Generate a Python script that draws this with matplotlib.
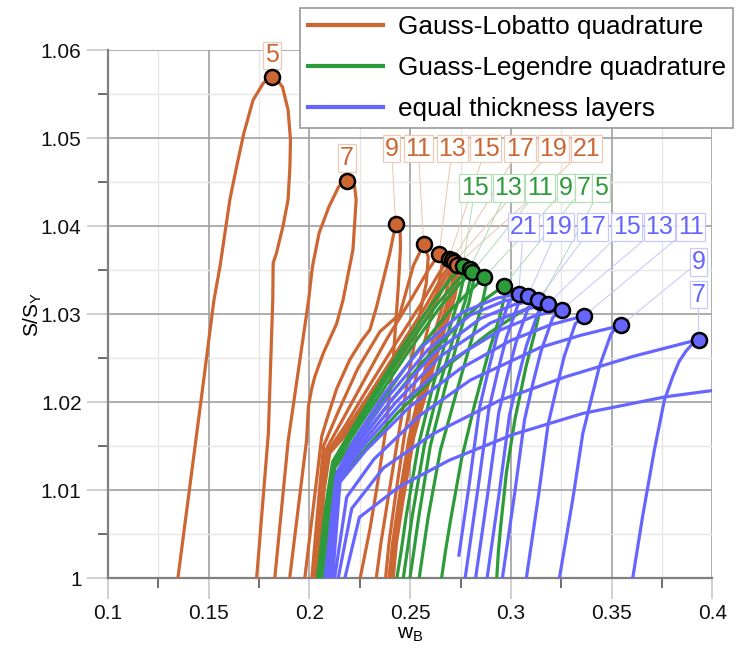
import matplotlib
matplotlib.use("Agg")
import matplotlib.pyplot as plt
from matplotlib.ticker import FixedLocator
from matplotlib.lines import Line2D

plt.rcParams['font.family'] = ['Liberation Sans', 'DejaVu Sans']

# ---------------- data ----------------
# Gauss-Lobatto quadrature (orange)
GL5_w = [0.1347, 0.1462, 0.1526, 0.1556, 0.1605, 0.1638, 0.1674, 0.1720, 0.1770, 0.1792, 0.1813, 0.1840, 0.1866, 0.1894, 0.1906, 0.1903, 0.1894, 0.1869, 0.1836, 0.1820, 0.1818, 0.1796, 0.1738]
GL5_s = [1.0, 1.0202, 1.0316, 1.0354, 1.0430, 1.0467, 1.0505, 1.0543, 1.0562, 1.0567, 1.0569, 1.0566, 1.0558, 1.0532, 1.0498, 1.0467, 1.0430, 1.0400, 1.0369, 1.0358, 1.0316, 1.0164, 1.0]
GL7_w = [0.1828, 0.1895, 0.1996, 0.2015, 0.2048, 0.2097, 0.2146, 0.2170, 0.2188, 0.2210, 0.2224, 0.2232, 0.2216, 0.2167, 0.2135, 0.2068, 0.2027, 0.2010, 0.1995, 0.1986, 0.1902]
GL7_s = [1.0, 1.0157, 1.0316, 1.0354, 1.0392, 1.0422, 1.0445, 1.0450, 1.0451, 1.0449, 1.0445, 1.0430, 1.0373, 1.0316, 1.0289, 1.0255, 1.0229, 1.0214, 1.0195, 1.0157, 1.0]
GL9_w = [0.1977, 0.2040, 0.2061, 0.2086, 0.2135, 0.2200, 0.2260, 0.2300, 0.2333, 0.2399, 0.2428, 0.2450, 0.2452, 0.2441, 0.2416, 0.2380, 0.2340, 0.2300, 0.2252]
GL9_s = [1.0, 1.0120, 1.0161, 1.0180, 1.0215, 1.0248, 1.0270, 1.0282, 1.0308, 1.0369, 1.0402, 1.0396, 1.0375, 1.0331, 1.0248, 1.0170, 1.0110, 1.0055, 1.0]
GL11_w = [0.2012, 0.2050, 0.2070, 0.2145, 0.2240, 0.2350, 0.2449, 0.2516, 0.2567, 0.2590, 0.2580, 0.2548, 0.2500, 0.2440, 0.2390, 0.2355, 0.2332]
GL11_s = [1.0, 1.0100, 1.0150, 1.0190, 1.0238, 1.0280, 1.0300, 1.0355, 1.0379, 1.0365, 1.0335, 1.0300, 1.0240, 1.0160, 1.0090, 1.0040, 1.0]
GL13_w = [0.2018, 0.2058, 0.2080, 0.2165, 0.2265, 0.2380, 0.2500, 0.2590, 0.2643, 0.2660, 0.2640, 0.2595, 0.2530, 0.2470, 0.2425, 0.2395, 0.2378]
GL13_s = [1.0, 1.0100, 1.0145, 1.0180, 1.0222, 1.0270, 1.0315, 1.0350, 1.0368, 1.0358, 1.0330, 1.0290, 1.0230, 1.0160, 1.0090, 1.0040, 1.0]
GL15_w = [0.2024, 0.2063, 0.2088, 0.2175, 0.2280, 0.2410, 0.2550, 0.2640, 0.2692, 0.2705, 0.2680, 0.2630, 0.2560, 0.2495, 0.2445, 0.2413, 0.2395]
GL15_s = [1.0, 1.0100, 1.0143, 1.0172, 1.0212, 1.0260, 1.0310, 1.0345, 1.0363, 1.0353, 1.0325, 1.0285, 1.0225, 1.0160, 1.0090, 1.0040, 1.0]
GL17_w = [0.2028, 0.2067, 0.2093, 0.2180, 0.2290, 0.2430, 0.2575, 0.2660, 0.2709, 0.2722, 0.2697, 0.2645, 0.2572, 0.2505, 0.2453, 0.2420, 0.2403]
GL17_s = [1.0, 1.0100, 1.0142, 1.0168, 1.0206, 1.0256, 1.0308, 1.0343, 1.0361, 1.0351, 1.0323, 1.0283, 1.0223, 1.0160, 1.0090, 1.0040, 1.0]
GL19_w = [0.2032, 0.2070, 0.2097, 0.2183, 0.2296, 0.2442, 0.2590, 0.2673, 0.2720, 0.2733, 0.2708, 0.2655, 0.2580, 0.2512, 0.2460, 0.2426, 0.2409]
GL19_s = [1.0, 1.0100, 1.0142, 1.0166, 1.0203, 1.0253, 1.0306, 1.0341, 1.0359, 1.0349, 1.0321, 1.0281, 1.0221, 1.0160, 1.0090, 1.0040, 1.0]
GL21_w = [0.2036, 0.2073, 0.2101, 0.2186, 0.2302, 0.2452, 0.2602, 0.2685, 0.2732, 0.2745, 0.2720, 0.2665, 0.2588, 0.2518, 0.2466, 0.2432, 0.2416]
GL21_s = [1.0, 1.0100, 1.0142, 1.0164, 1.0200, 1.0250, 1.0303, 1.0338, 1.0356, 1.0346, 1.0318, 1.0278, 1.0218, 1.0160, 1.0090, 1.0040, 1.0]

# Gauss-Legendre quadrature (green)
LG5_w = [0.2068, 0.2110, 0.2150, 0.2270, 0.2440, 0.2650, 0.2890, 0.3040, 0.3143, 0.3145, 0.3120, 0.3075, 0.3020, 0.2978, 0.2950, 0.2938, 0.2930]
LG5_s = [1.0, 1.0070, 1.0112, 1.0145, 1.0188, 1.0235, 1.0278, 1.0301, 1.0314, 1.0304, 1.0280, 1.0240, 1.0180, 1.0120, 1.0060, 1.0030, 1.0]
LG7_w = [0.2062, 0.2100, 0.2135, 0.2240, 0.2390, 0.2560, 0.2760, 0.2880, 0.2965, 0.2970, 0.2945, 0.2890, 0.2820, 0.2755, 0.2700, 0.2675, 0.2656]
LG7_s = [1.0, 1.0075, 1.0120, 1.0153, 1.0197, 1.0245, 1.0293, 1.0318, 1.0332, 1.0322, 1.0297, 1.0257, 1.0197, 1.0135, 1.0065, 1.0030, 1.0]
LG9_w = [0.2055, 0.2095, 0.2126, 0.2225, 0.2360, 0.2520, 0.2690, 0.2800, 0.2869, 0.2876, 0.2853, 0.2800, 0.2725, 0.2650, 0.2590, 0.2564, 0.2545]
LG9_s = [1.0, 1.0078, 1.0125, 1.0158, 1.0202, 1.0253, 1.0302, 1.0327, 1.0342, 1.0332, 1.0307, 1.0267, 1.0207, 1.0145, 1.0070, 1.0030, 1.0]
LG11_w = [0.2050, 0.2090, 0.2121, 0.2210, 0.2340, 0.2490, 0.2645, 0.2745, 0.2808, 0.2815, 0.2792, 0.2740, 0.2670, 0.2600, 0.2543, 0.2518, 0.2499]
LG11_s = [1.0, 1.0080, 1.0128, 1.0160, 1.0205, 1.0257, 1.0307, 1.0334, 1.0348, 1.0338, 1.0313, 1.0273, 1.0213, 1.0150, 1.0070, 1.0030, 1.0]
LG13_w = [0.2045, 0.2085, 0.2118, 0.2205, 0.2330, 0.2475, 0.2630, 0.2730, 0.2795, 0.2800, 0.2775, 0.2718, 0.2642, 0.2570, 0.2510, 0.2485, 0.2466]
LG13_s = [1.0, 1.0080, 1.0130, 1.0163, 1.0208, 1.0260, 1.0310, 1.0337, 1.0351, 1.0341, 1.0316, 1.0276, 1.0216, 1.0150, 1.0070, 1.0030, 1.0]
LG15_w = [0.2040, 0.2080, 0.2115, 0.2200, 0.2320, 0.2460, 0.2610, 0.2700, 0.2762, 0.2770, 0.2745, 0.2690, 0.2615, 0.2540, 0.2480, 0.2455, 0.2434]
LG15_s = [1.0, 1.0080, 1.0132, 1.0165, 1.0210, 1.0262, 1.0312, 1.0340, 1.0355, 1.0345, 1.0320, 1.0280, 1.0220, 1.0150, 1.0070, 1.0030, 1.0]

# equal thickness layers (blue)
EQ5_w = [0.2176, 0.2248, 0.2448, 0.2696, 0.3010, 0.3357, 0.3770, 0.4000]
EQ5_s = [1.0, 1.0069, 1.0104, 1.0134, 1.0163, 1.0187, 1.0206, 1.0213]
EQ7_w = [0.2143, 0.2210, 0.2367, 0.2615, 0.2946, 0.3277, 0.3609, 0.3932, 0.3905, 0.3870, 0.3835, 0.3804, 0.3762, 0.3712, 0.3654, 0.3605]
EQ7_s = [1.0, 1.0079, 1.0125, 1.0164, 1.0202, 1.0229, 1.0252, 1.0271, 1.0267, 1.0258, 1.0246, 1.0229, 1.0202, 1.0145, 1.0070, 1.0]
EQ9_w = [0.2125, 0.2185, 0.2320, 0.2550, 0.2800, 0.3146, 0.3350, 0.3547, 0.3520, 0.3497, 0.3439, 0.3398, 0.3357, 0.3307, 0.3241]
EQ9_s = [1.0, 1.0092, 1.0135, 1.0185, 1.0225, 1.0262, 1.0276, 1.0287, 1.0284, 1.0277, 1.0240, 1.0202, 1.0164, 1.0089, 1.0]
EQ11_w = [0.2115, 0.2152, 0.2280, 0.2500, 0.2750, 0.3000, 0.3200, 0.3365, 0.3320, 0.3265, 0.3225, 0.3185, 0.3138, 0.3077]
EQ11_s = [1.0, 1.0109, 1.0145, 1.0195, 1.0238, 1.0270, 1.0288, 1.0298, 1.0289, 1.0252, 1.0214, 1.0175, 1.0095, 1.0]
EQ13_w = [0.2105, 0.2145, 0.2260, 0.2450, 0.2700, 0.2950, 0.3120, 0.3254, 0.3208, 0.3150, 0.3108, 0.3068, 0.3020, 0.2958]
EQ13_s = [1.0, 1.0112, 1.0148, 1.0197, 1.0247, 1.0282, 1.0298, 1.0305, 1.0296, 1.0258, 1.0220, 1.0180, 1.0098, 1.0]
EQ15_w = [0.2095, 0.2140, 0.2250, 0.2430, 0.2650, 0.2900, 0.3070, 0.3183, 0.3136, 0.3077, 0.3034, 0.2993, 0.2944, 0.2882]
EQ15_s = [1.0, 1.0114, 1.0150, 1.0200, 1.0252, 1.0290, 1.0305, 1.0311, 1.0302, 1.0264, 1.0225, 1.0185, 1.0100, 1.0]
EQ17_w = [0.2090, 0.2138, 0.2240, 0.2410, 0.2620, 0.2850, 0.3020, 0.3134, 0.3086, 0.3026, 0.2982, 0.2940, 0.2889, 0.2825]
EQ17_s = [1.0, 1.0116, 1.0152, 1.0203, 1.0256, 1.0295, 1.0311, 1.0316, 1.0307, 1.0268, 1.0229, 1.0188, 1.0102, 1.0]
EQ19_w = [0.2083, 0.2135, 0.2230, 0.2390, 0.2590, 0.2800, 0.2970, 0.3084, 0.3036, 0.2976, 0.2932, 0.2890, 0.2838, 0.2773]
EQ19_s = [1.0, 1.0117, 1.0154, 1.0206, 1.0260, 1.0299, 1.0315, 1.0320, 1.0311, 1.0272, 1.0232, 1.0191, 1.0104, 1.0]
EQ21_w = [0.2077, 0.2133, 0.2220, 0.2370, 0.2560, 0.2760, 0.2930, 0.3039, 0.2991, 0.2931, 0.2887, 0.2845, 0.2793, 0.2742]
EQ21_s = [1.0, 1.0118, 1.0156, 1.0209, 1.0263, 1.0302, 1.0318, 1.0323, 1.0314, 1.0275, 1.0235, 1.0194, 1.0106, 1.0026]

# peak markers and their labels
lobatto_n = [5, 7, 9, 11, 13, 15, 17, 19, 21]
lobatto_peak_w = [0.1813, 0.2188, 0.2428, 0.2567, 0.2643, 0.2692, 0.2709, 0.2720, 0.2732]
lobatto_peak_s = [1.0569, 1.0451, 1.0402, 1.0379, 1.0368, 1.0363, 1.0361, 1.0359, 1.0356]
legendre_n = [15, 13, 11, 9, 7, 5]
legendre_peak_w = [0.2762, 0.2795, 0.2808, 0.2869, 0.2965, 0.3143]
legendre_peak_s = [1.0355, 1.0351, 1.0348, 1.0342, 1.0332, 1.0314]
equal_n = [21, 19, 17, 15, 13, 11, 9, 7]
equal_peak_w = [0.3039, 0.3084, 0.3134, 0.3183, 0.3254, 0.3365, 0.3547, 0.3932]
equal_peak_s = [1.0323, 1.0320, 1.0316, 1.0311, 1.0305, 1.0298, 1.0287, 1.0271]

# label box positions (layout)
lobatto_lab_w = [0.1815, 0.2187, 0.2408, 0.2540, 0.2709, 0.2875, 0.3045, 0.3211, 0.3377]
lobatto_lab_s = [1.0594, 1.0477, 1.0488, 1.0488, 1.0488, 1.0488, 1.0488, 1.0488, 1.0488]
legendre_lab_w = [0.2822, 0.2987, 0.3145, 0.3274, 0.3360, 0.3448]
legendre_lab_s = [1.0443] * 6
equal_lab_w = [0.3062, 0.3235, 0.3404, 0.3575, 0.3737, 0.3893, 0.3931, 0.3931]
equal_lab_s = [1.0399, 1.0399, 1.0399, 1.0399, 1.0399, 1.0399, 1.0359, 1.0322]

lobatto_curves = [(GL5_w, GL5_s), (GL7_w, GL7_s), (GL9_w, GL9_s), (GL11_w, GL11_s), (GL13_w, GL13_s),
                  (GL15_w, GL15_s), (GL17_w, GL17_s), (GL19_w, GL19_s), (GL21_w, GL21_s)]
legendre_curves = [(LG5_w, LG5_s), (LG7_w, LG7_s), (LG9_w, LG9_s), (LG11_w, LG11_s), (LG13_w, LG13_s), (LG15_w, LG15_s)]
equal_curves = [(EQ5_w, EQ5_s), (EQ7_w, EQ7_s), (EQ9_w, EQ9_s), (EQ11_w, EQ11_s), (EQ13_w, EQ13_s),
                (EQ15_w, EQ15_s), (EQ17_w, EQ17_s), (EQ19_w, EQ19_s), (EQ21_w, EQ21_s)]

C_OR = '#CC6633'
C_GR = '#2E9B3A'
C_BL = '#6666FF'
P_OR = '#EBC3AE'
P_GR = '#B0DCB4'
P_BL = '#C4C4FF'

# ---------------- figure ----------------
fig = plt.figure(figsize=(7.40, 6.55), dpi=100)
ax = fig.add_axes([108 / 740, 1 - 578 / 655, (712.3 - 108) / 740, (578 - 50) / 655])
ax.set_xlim(0.1, 0.4)
ax.set_ylim(1.0, 1.06)

LW = 2.3
for w, s in lobatto_curves:
    ax.plot(w, s, color=C_OR, lw=LW, zorder=3, solid_joinstyle='round')
for w, s in legendre_curves:
    ax.plot(w, s, color=C_GR, lw=LW, zorder=3.1, solid_joinstyle='round')
for w, s in equal_curves:
    ax.plot(w, s, color=C_BL, lw=LW, zorder=3.2, solid_joinstyle='round')

MS = 10.8
ax.plot(lobatto_peak_w, lobatto_peak_s, 'o', ms=MS, mfc=C_OR, mec='black', mew=1.8, zorder=6, clip_on=False)
ax.plot(legendre_peak_w, legendre_peak_s, 'o', ms=MS, mfc=C_GR, mec='black', mew=1.8, zorder=6.1, clip_on=False)
ax.plot(equal_peak_w, equal_peak_s, 'o', ms=MS, mfc=C_BL, mec='black', mew=1.8, zorder=6.2, clip_on=False)


def labels(ns, pw, ps, lw_, ls_, col, pale):
    for n, x, y, tx, ty in zip(ns, pw, ps, lw_, ls_):
        ax.annotate(str(n), xy=(x, y), xytext=(tx, ty), textcoords='data',
                    ha='center', va='center', color=col, fontsize=18,
                    bbox=dict(boxstyle='square,pad=0.07', fc='white', ec=pale, lw=0.9, alpha=0.9),
                    arrowprops=dict(arrowstyle='-', color=pale, lw=0.7, shrinkA=0, shrinkB=0),
                    annotation_clip=False, zorder=5)


labels(lobatto_n, lobatto_peak_w, lobatto_peak_s, lobatto_lab_w, lobatto_lab_s, C_OR, P_OR)
labels(legendre_n, legendre_peak_w, legendre_peak_s, legendre_lab_w, legendre_lab_s, C_GR, P_GR)
labels(equal_n, equal_peak_w, equal_peak_s, equal_lab_w, equal_lab_s, C_BL, P_BL)

# axes styling
ax.xaxis.set_major_locator(FixedLocator([0.1, 0.15, 0.2, 0.25, 0.3, 0.35, 0.4]))
ax.xaxis.set_minor_locator(FixedLocator([0.125, 0.175, 0.225, 0.275, 0.325, 0.375]))
ax.yaxis.set_major_locator(FixedLocator([1.0, 1.01, 1.02, 1.03, 1.04, 1.05, 1.06]))
ax.yaxis.set_minor_locator(FixedLocator([1.005, 1.015, 1.025, 1.035, 1.045, 1.055]))
ax.set_xticklabels(['0.1', '0.15', '0.2', '0.25', '0.3', '0.35', '0.4'])
ax.set_yticklabels(['1', '1.01', '1.02', '1.03', '1.04', '1.05', '1.06'])
ax.tick_params(which='major', length=15, width=1.2, color='#C8C8C8', labelsize=15, pad=4, labelcolor='#111111')
ax.tick_params(which='minor', length=7, width=1.2, color='#555555')
ax.grid(which='major', color='#A0A0A0', lw=1.2, zorder=0)
ax.grid(which='minor', color='#E6E6E6', lw=1.0, zorder=0)
ax.set_axisbelow(True)
for sp in ['top', 'right']:
    ax.spines[sp].set_visible(False)
for sp in ['left', 'bottom']:
    ax.spines[sp].set_color('#808080')
    ax.spines[sp].set_linewidth(1.6)

ax.set_xlabel(r'w$_\mathregular{B}$', fontsize=15, labelpad=1)
ax.set_ylabel(r'S/S$_\mathregular{Y}$', fontsize=15, labelpad=-2)

# legend
handles = [Line2D([], [], color=C_OR, lw=3), Line2D([], [], color=C_GR, lw=3), Line2D([], [], color=C_BL, lw=3)]
leg = fig.legend(handles, ['Gauss-Lobatto quadrature', 'Guass-Legendre quadrature', 'equal thickness layers'],
                 loc='upper right', bbox_to_anchor=(733 / 740, 1 - 8 / 655), bbox_transform=fig.transFigure,
                 fontsize=18.8, frameon=True, fancybox=False, edgecolor='#999999', framealpha=1,
                 handlelength=2.9, handletextpad=0.55, borderpad=0.28, labelspacing=0.64, borderaxespad=0)
leg.get_frame().set_linewidth(1.2)
leg.set_zorder(10)

fig.savefig('out.png', dpi=100)
